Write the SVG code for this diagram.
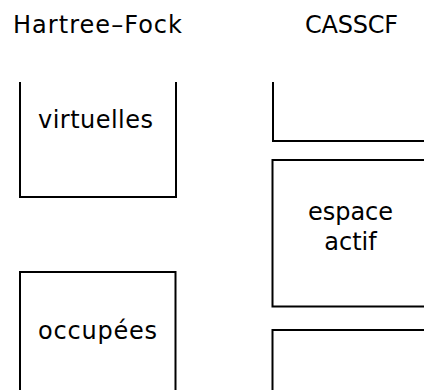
<svg xmlns="http://www.w3.org/2000/svg" width="424" height="390" viewBox="0 0 424 390">
<style>
.box{fill:none;stroke:#000;stroke-width:2}
.t{font-family:"DejaVu Sans","Liberation Sans",sans-serif;font-size:24px;fill:#000;text-anchor:middle}
</style>
<rect width="424" height="390" fill="#fff"/>
<g id="title-hf"><text class="t" x="97.5" y="33" textLength="169" lengthAdjust="spacing">Hartree–Fock</text></g>
<g id="title-casscf"><text class="t" x="351.5" y="33" textLength="93" lengthAdjust="spacing">CASSCF</text></g>
<g id="hf-virtuelles">
<path class="box" d="M20,82 V197 H176 V82"/>
<text class="t" x="95.5" y="128" textLength="115" lengthAdjust="spacing">virtuelles</text>
</g>
<g id="hf-occupees">
<path class="box" d="M20,391 V272 H175.5 V391"/>
<text class="t" x="97.5" y="339" textLength="119" lengthAdjust="spacing">occupées</text>
</g>
<g id="cas-virtuelles">
<path class="box" d="M273,82 V141 H425"/>
</g>
<g id="cas-actif">
<path class="box" d="M425,160 H272.5 V306.5 H425"/>
<text class="t" x="350.5" y="220" textLength="85" lengthAdjust="spacing">espace</text>
<text class="t" x="350.5" y="250">actif</text>
</g>
<g id="cas-occupees">
<path class="box" d="M425,330 H272.5 V391"/>
</g>
<g id="connectors"/>
</svg>
